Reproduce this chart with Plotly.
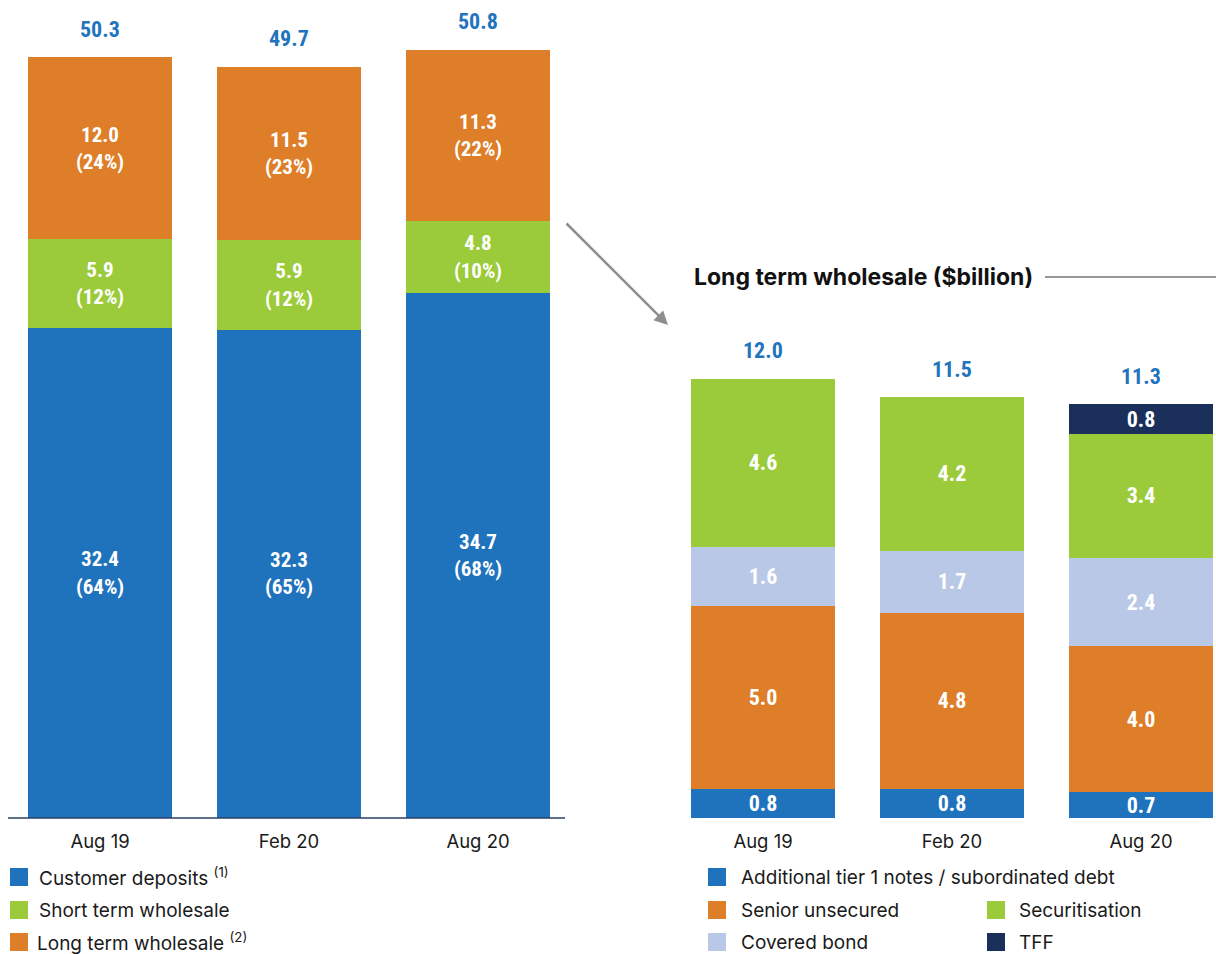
import plotly.graph_objects as go

W, H = 1216, 954

# ---------- data ----------
periods = ["Aug 19", "Feb 20", "Aug 20"]

# Left chart: funding composition ($billion)
customer_deposits = [32.4, 32.3, 34.7]
customer_pct = ["64%", "65%", "68%"]
short_term = [5.9, 5.9, 4.8]
short_pct = ["12%", "12%", "10%"]
long_term = [12.0, 11.5, 11.3]
long_pct = ["24%", "23%", "22%"]
left_totals = [50.3, 49.7, 50.8]

# Right chart: long term wholesale ($billion)
at1_subdebt = [0.8, 0.8, 0.7]
senior_unsecured = [5.0, 4.8, 4.0]
covered_bond = [1.6, 1.7, 2.4]
securitisation = [4.6, 4.2, 3.4]
tff = [None, None, 0.8]
right_totals = [12.0, 11.5, 11.3]

left_names = ["Customer deposits <sup>(1)</sup>", "Short term wholesale",
              "Long term wholesale <sup>(2)</sup>"]
right_names = ["Additional tier 1 notes / subordinated debt", "Senior unsecured",
               "Covered bond", "Securitisation", "TFF"]

# ---------- styles ----------
BLUE = "#1F73BC"
GREEN = "#9BCB3B"
ORANGE = "#DE7E29"
LIGHT = "#B9C8E7"
NAVY = "#1B2F5B"
TOTAL_C = "#1F74BD"
COND = "Roboto Condensed, Liberation Sans Narrow, Roboto, sans-serif"
REG = "Inter, Roboto, sans-serif"

fig = go.Figure()

def keep(vals, extra=None):
    """Drop periods with no value so no empty labels are drawn."""
    idx = [i for i, v in enumerate(vals) if v is not None]
    xs = [periods[i] for i in idx]
    ys = [vals[i] for i in idx]
    ex = [extra[i] for i in idx] if extra is not None else None
    return xs, ys, ex

def lbl(vals, pcts=None):
    if pcts is None:
        return [f"{v:.1f}" for v in vals]
    return [f"{v:.1f}<br>({p})" for v, p in zip(vals, pcts)]

left_series = [(customer_deposits, customer_pct, BLUE),
               (short_term, short_pct, GREEN),
               (long_term, long_pct, ORANGE)]
for vals, pcts, col in left_series:
    xs, ys, ps = keep(vals, pcts)
    fig.add_trace(go.Bar(
        x=xs, y=ys, text=lbl(ys, ps), textposition="inside",
        insidetextanchor="middle", textangle=0, constraintext="none",
        textfont=dict(family=COND, size=21, color="white", weight="bold"),
        marker=dict(color=col, line=dict(width=0)), width=0.76,
        xaxis="x", yaxis="y", showlegend=False, hoverinfo="skip"))

right_series = [(at1_subdebt, BLUE), (senior_unsecured, ORANGE),
                (covered_bond, LIGHT), (securitisation, GREEN), (tff, NAVY)]
for vals, col in right_series:
    xs, ys, _ = keep(vals)
    fig.add_trace(go.Bar(
        x=xs, y=ys, text=lbl(ys), textposition="inside",
        insidetextanchor="middle", textangle=0, constraintext="none",
        textfont=dict(family=COND, size=22, color="white", weight="bold"),
        marker=dict(color=col, line=dict(width=0)), width=0.76,
        xaxis="x2", yaxis="y2", showlegend=False, hoverinfo="skip"))

annotations = []
for p, t in zip(periods, left_totals):
    annotations.append(dict(x=p, y=t, xref="x", yref="y", text=f"<b>{t:.1f}</b>",
                            showarrow=False, yanchor="middle", yshift=28,
                            font=dict(family=COND, size=22, color=TOTAL_C)))
for p, t in zip(periods, right_totals):
    annotations.append(dict(x=p, y=t, xref="x2", yref="y2", text=f"<b>{t:.1f}</b>",
                            showarrow=False, yanchor="middle", yshift=28,
                            font=dict(family=COND, size=22, color=TOTAL_C)))

# title of right panel
annotations.append(dict(x=692 / W, y=1 - 277 / H, xref="paper", yref="paper",
                        text="<b>Long term wholesale ($billion)</b>", showarrow=False,
                        xanchor="left", yanchor="middle",
                        font=dict(family=REG, size=23, color="#111111")))
# arrow
annotations.append(dict(x=668 / W, y=1 - 325 / H, xref="paper", yref="paper",
                        ax=-103, ay=-103, text="", showarrow=True, arrowhead=2,
                        arrowsize=1.1, arrowwidth=2.5, arrowcolor="#8E8E8E"))

shapes = [
    dict(type="line", xref="paper", yref="paper", x0=8 / W, x1=565 / W,
         y0=1 - 818 / H, y1=1 - 818 / H, line=dict(color="#2B3F66", width=1.5)),
    dict(type="line", xref="paper", yref="paper", x0=1045 / W, x1=1,
         y0=1 - 277 / H, y1=1 - 277 / H, line=dict(color="#333333", width=1.2)),
]

# ---------- manual legends ----------
def add_legend(names, colors, positions):
    for name, col, (sx, ty, cy) in zip(names, colors, positions):
        shapes.append(dict(type="rect", xref="paper", yref="paper",
                           x0=sx / W, x1=(sx + 18) / W,
                           y0=1 - (cy + 9) / H, y1=1 - (cy - 9) / H,
                           fillcolor=col, line=dict(width=0)))
        annotations.append(dict(x=ty / W, y=1 - cy / H, xref="paper", yref="paper",
                                text=name, showarrow=False, xanchor="left",
                                yanchor="middle",
                                font=dict(family=REG, size=19, color="#1A1A1A")))

add_legend(left_names, [BLUE, GREEN, ORANGE],
           [(10, 37, 877), (10, 37, 910), (10, 35, 942)])
add_legend(right_names, [BLUE, ORANGE, LIGHT, GREEN, NAVY],
           [(708, 739, 877), (708, 739, 910), (708, 739, 942),
            (987, 1017, 910), (987, 1017, 942)])

base = 1 - 818 / H
fig.update_layout(
    width=W, height=H, margin=dict(l=0, r=0, t=0, b=0),
    paper_bgcolor="white", plot_bgcolor="white", barmode="stack", bargap=0.24,
    xaxis=dict(domain=[5.5 / W, 572.5 / W], range=[-0.5, 2.5], type="category",
               categoryorder="array", categoryarray=periods,
               showgrid=False, zeroline=False, showline=False, ticks="",
               ticklabelstandoff=10,
               tickfont=dict(family=REG, size=18.5, color="#1A1A1A")),
    yaxis=dict(domain=[base, 1], range=[0, 818 / 15.12], visible=False),
    xaxis2=dict(domain=[668.5 / W, 1], range=[-0.5, -0.5 + 547.5 / 189], type="category",
                categoryorder="array", categoryarray=periods,
                showgrid=False, zeroline=False, showline=False, ticks="",
                ticklabelstandoff=10,
                tickfont=dict(family=REG, size=18.5, color="#1A1A1A")),
    yaxis2=dict(domain=[base, 1], range=[0, 818 / 36.6], visible=False),
    annotations=annotations, shapes=shapes,
)

fig.write_html("out.html", config={"displayModeBar": False},
               post_script="document.body.style.margin='0';"
                           "document.body.style.overflow='hidden';")
